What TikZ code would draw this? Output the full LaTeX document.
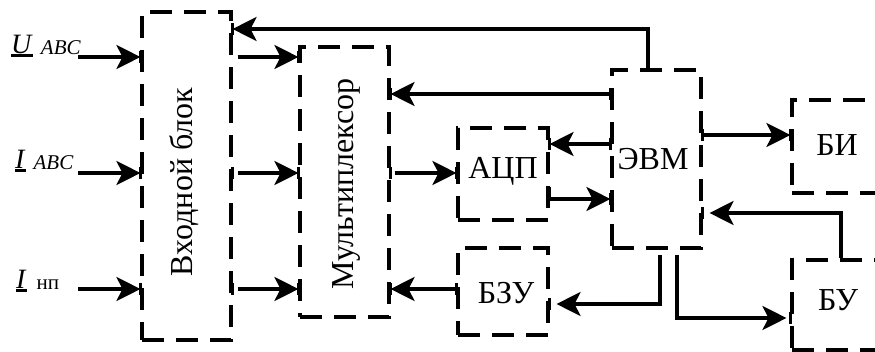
\documentclass[tikz,border=0pt]{standalone}
\usepackage{fontspec}
\setmainfont{Liberation Serif}
\usetikzlibrary{arrows.meta}
\newcommand\ulb[1]{\setbox0\hbox{#1}\rlap{\rule[-3.5pt]{\wd0}{2.2pt}}\box0}
\newcommand\tk[2]{\draw[tkline] (#1 |- 0,#2) ++(0,-6) -- ++(0,12);}
\begin{document}
\begin{tikzpicture}[x=1pt,y=-1pt,
  bx/.style={draw, line width=3.1pt, dash pattern=on 22pt off 12pt, inner sep=0pt},
  arr/.style={line width=3.1pt, -{Stealth[length=24pt,width=24pt,inset=6pt]}},
  tkline/.style={line width=3.1pt},
  txt/.style={font=\fontsize{32}{38}\selectfont, inner sep=0pt, anchor=base},
  lbl/.style={inner sep=0pt, anchor=base west}]
\useasboundingbox (0,0) rectangle (875,351);
% boxes
\node[bx, minimum width=89pt, minimum height=328pt] (vb) at (186.5,176) {};
\node[bx, minimum width=89pt, minimum height=270pt] (mux) at (344.5,182) {};
\node[bx, minimum width=90pt, minimum height=92pt] (adc) at (503,174) {};
\node[bx, minimum width=90pt, minimum height=87pt] (bzu) at (503,291.5) {};
\node[bx, minimum width=89pt, minimum height=178pt] (evm) at (656.5,159) {};
\node[bx, minimum width=92pt, minimum height=93pt] (bi) at (838,146.5) {};
\node[bx, minimum width=92pt, minimum height=90pt] (bu) at (838,305) {};
% texts
\node[txt, rotate=90] (tvb) at (192,182) {Входной блок};
\node[txt, rotate=90] (tmux) at (353,184) {Мультиплексор};
\node[txt] (tadc) at (503,178) {АЦП};
\node[txt] (tbzu) at (506,303) {БЗУ};
\node[txt] (tevm) at (653,169) {ЭВМ};
\node[txt] (tbi) at (837,155) {БИ};
\node[txt] (tbu) at (838,310) {БУ};
% input labels
\node[lbl] (lu) at (11,53) {\fontsize{28}{30}\selectfont\ulb{\textit{U}}\hspace{8pt}\raisebox{-1pt}{\fontsize{21}{24}\selectfont\textit{ABC}}};
\node[lbl] (li) at (15,168) {\fontsize{28}{30}\selectfont\ulb{\textit{I}}\hspace{8pt}\raisebox{-1.5pt}{\fontsize{21}{24}\selectfont\textit{ABC}}};
\node[lbl] (ln) at (16,288) {\fontsize{28}{30}\selectfont\ulb{\textit{I}}\hspace{10pt}\raisebox{-1.5pt}{\fontsize{21}{24}\selectfont нп}};
\coordinate (inu) at (78,57);
\coordinate (ini) at (78,173);
\coordinate (inn) at (78,289);
% inputs
\draw[arr] (inu) -- (vb.west |- inu);
\draw[arr] (ini) -- (vb.west |- ini);
\draw[arr] (inn) -- (vb.west |- inn);
% vb -> mux
\draw[arr] ([xshift=5pt]vb.east |- inu) -- (mux.west |- inu);
\draw[arr] ([xshift=5pt]vb.east |- ini) -- (mux.west |- ini);
\draw[arr] ([xshift=5pt]vb.east |- inn) -- (mux.west |- inn);
% feedback evm -> vb
\draw[arr] ([xshift=-8.5pt]evm.north) |- (vb.east |- 0,29);
% evm -> mux
\draw[arr] (evm.west |- 0,94) -- (mux.east |- 0,94);
% evm -> adc
\draw[arr] (evm.west |- 0,144) -- (adc.east |- 0,144);
% mux -> adc
\draw[arr] ([xshift=4pt]mux.east |- 0,173) -- (adc.west |- 0,173);
% adc -> evm
\draw[arr] (adc.east |- 0,199) -- (evm.west |- 0,199);
% bzu -> mux
\draw[arr] (bzu.west |- 0,289) -- (mux.east |- 0,289);
% evm -> bzu
\draw[arr] ([xshift=3.5pt,yshift=-5pt]evm.south) |- ([xshift=7pt]bzu.east |- 0,304);
% evm -> bu
\draw[arr] ([xshift=20.5pt,yshift=-5pt]evm.south) |- ([xshift=-4pt]bu.west |- 0,318);
% evm -> bi
\draw[arr] (evm.east |- 0,135) -- (bi.west |- 0,135);
% bu -> evm
\draw[arr] ([xshift=3pt]bu.north) |- ([xshift=7pt]evm.east |- 0,213);
% ticks at connection points
\tk{vb.west}{57} \tk{vb.west}{173} \tk{vb.west}{289}
\tk{vb.east}{29} \tk{vb.east}{173} \tk{vb.east}{289}
\tk{mux.west}{57} \tk{mux.west}{173} \tk{mux.west}{289}
\tk{mux.east}{94} \tk{mux.east}{173} \tk{mux.east}{289}
\tk{adc.west}{173} \tk{adc.east}{144} \tk{adc.east}{193}
\tk{bzu.west}{289} \tk{bzu.east}{304}
\tk{evm.west}{94} \tk{evm.west}{144} \tk{evm.west}{199}
\tk{evm.east}{135} \tk{evm.east}{213}
\tk{bi.west}{135} \tk{bu.west}{318}
\end{tikzpicture}
\end{document}
